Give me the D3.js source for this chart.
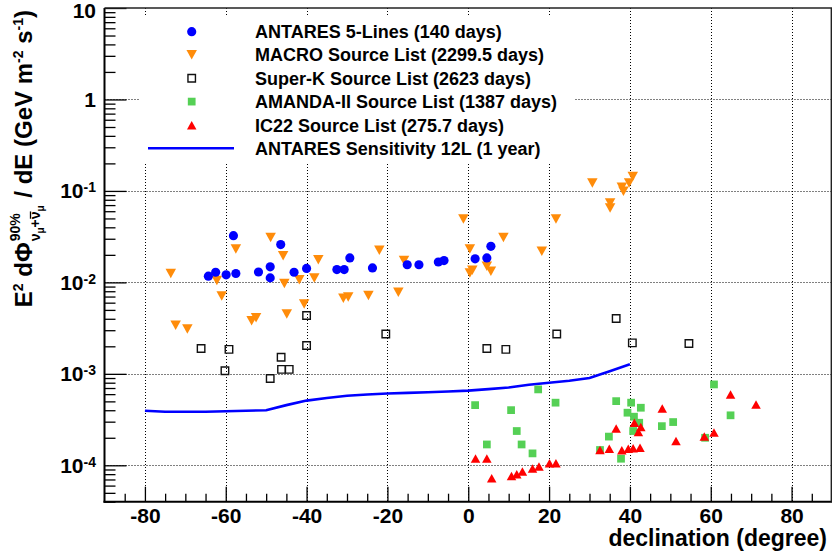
<!DOCTYPE html>
<html>
<head>
<meta charset="utf-8">
<script src="https://cdn.jsdelivr.net/npm/d3@7"></script>
<style>
  html, body { margin: 0; padding: 0; background: #fff; }
  svg { display: block; font-family: "Liberation Sans", Arial, Helvetica, sans-serif; font-weight: bold; }
  .pre { white-space: pre; }
</style>
</head>
<body>
<svg id="chart" width="832" height="560"></svg>
<script>
// ---------------- data ----------------
const antaresDec  = [-64.3,-62.5,-59.9,-58.1,-57.5,-51.9,-49.0,-49.0,-46.4,-43.1,-40.0,-32.5,-30.7,-29.3,-23.7,-15.1,-12.2,-7.4,-6.0,1.7,4.6,5.6];
const antaresFlux = [0.0117,0.0129,0.0121,0.0324,0.0125,0.0130,0.0148,0.0112,0.0259,0.0129,0.0142,0.0138,0.0138,0.0185,0.0144,0.0156,0.0156,0.0167,0.0173,0.0181,0.0185,0.0248];

const macroDec  = [-73.6,-72.4,-69.5,-62.2,-61.0,-57.5,-53.6,-52.5,-48.9,-45.8,-45.5,-44.9,-41.8,-40.6,-38.1,-37.1,-30.9,-29.7,-24.7,-22.0,-17.3,-15.9,-1.2,0.4,0.4,1.0,4.6,5.6,8.7,18.2,21.7,30.7,35.1,35.1,38.0,38.4,39.8,40.7];
const macroFlux = [0.0125,0.0034,0.0031,0.0105,0.0071,0.0232,0.0038,0.0041,0.031,0.0196,0.0097,0.0045,0.0107,0.0058,0.0112,0.0177,0.0067,0.0069,0.0072,0.0224,0.0078,0.0173,0.0493,0.0232,0.0127,0.0136,0.015,0.0132,0.031,0.0219,0.0493,0.122,0.074,0.065,0.110,0.099,0.122,0.144];

const superKDec  = [-66.1,-60.2,-59.2,-49.0,-46.3,-46.2,-44.3,-40.0,-40.0,-20.4,4.6,9.3,21.9,36.6,40.6,54.6];
const superKFlux = [0.00189,0.00108,0.00185,0.00089,0.00152,0.00112,0.00112,0.00435,0.00204,0.00273,0.00189,0.00185,0.00273,0.00403,0.00218,0.00215];

const amandaDec  = [1.7,4.6,10.6,12.0,13.2,15.9,17.3,21.6,32.6,34.8,36.6,37.8,39.4,40.3,41.0,42.7,42.3,40.8,47.9,50.7,58.6,60.8,64.9];
const amandaFlux = [0.000455,0.000169,0.000401,0.000237,0.000169,0.000135,0.000676,0.000484,0.000147,0.000206,0.000503,0.000118,0.000376,0.000484,0.00034,0.000426,0.000292,0.000237,0.000268,0.000297,0.0002,0.000766,0.000352];

const ic22Dec  = [1.8,4.6,5.8,10.7,12.0,13.4,15.9,17.5,20.1,21.7,32.6,34.9,36.6,38.0,39.6,40.8,42.5,41.1,42.1,42.7,48.0,51.4,58.4,60.8,64.9,71.2];
const ic22Flux = [0.000119,0.000119,0.0000721,0.0000764,0.0000798,0.0000853,0.000092,0.000097,0.000105,0.000105,0.000147,0.000152,0.000253,0.000146,0.000152,0.000154,0.000156,0.000292,0.000231,0.000262,0.000419,0.000184,0.000206,0.000228,0.000596,0.000463];

const sensDec  = [-80,-75,-70,-65,-60,-55,-50,-45,-40,-35,-30,-25,-20,-15,-10,-5,0,5,10,15,20,25,30,35,40];
const sensFlux = [3.95e-4,3.85e-4,3.85e-4,3.85e-4,3.9e-4,3.95e-4,4.0e-4,4.55e-4,5.1e-4,5.45e-4,5.75e-4,5.95e-4,6.1e-4,6.2e-4,6.3e-4,6.4e-4,6.55e-4,6.8e-4,7.1e-4,7.6e-4,8.0e-4,8.4e-4,9.0e-4,1.07e-3,1.27e-3];

const xTickValues = [-80,-60,-40,-20,0,20,40,60,80];
const yTickExponents = [-4,-3,-2,-1,0,1];
const legendLabels = [
  "ANTARES 5-Lines (140 days)",
  "MACRO Source List (2299.5 days)",
  "Super-K Source List (2623 days)",
  "AMANDA-II Source List (1387 days)",
  "IC22 Source List (275.7 days)",
  "ANTARES Sensitivity 12L (1 year)"
];
const xTitle = "declination (degree)";

// ---------------- layout ----------------
const svg = d3.select("#chart");
const X0 = 104.5, X1 = 832, Y0 = 501.7, Y1 = 8;
const x = d3.scaleLinear().domain([-90, 90]).range([X0, X1]);
const y = d3.scaleLog().domain([4e-5, 10]).range([Y0, Y1]);

const C = { blue: "#0000ff", orange: "#ff8c0a", green: "#55d055", red: "#ff0000", black: "#000" };

// grid
const grid = svg.append("g").attr("stroke", "#000").attr("stroke-width", 1).attr("stroke-dasharray", "1,2");
grid.selectAll("line.v").data(xTickValues).join("line")
  .attr("x1", d => Math.round(x(d)) + 0.5).attr("x2", d => Math.round(x(d)) + 0.5)
  .attr("y1", Y1).attr("y2", Y0);
grid.selectAll("line.h").data(yTickExponents.slice(0, -1)).join("line")
  .attr("x1", X0).attr("x2", X1)
  .attr("y1", d => Math.round(y(Math.pow(10, d))) + 0.5).attr("y2", d => Math.round(y(Math.pow(10, d))) + 0.5);

// sensitivity line
const lineGen = d3.line().x(d => x(d[0])).y(d => y(d[1]));
svg.append("path").datum(sensDec.map((d, i) => [d, sensFlux[i]]))
  .attr("d", lineGen).attr("fill", "none").attr("stroke", C.blue).attr("stroke-width", 2.6);

// marker shapes
function triDown(w, h) { return `M${-w/2},${-h/2}L${w/2},${-h/2}L0,${h/2}Z`; }
function triUp(w, h) { return `M${-w/2},${h/2}L${w/2},${h/2}L0,${-h/2}Z`; }

function drawSeries(dec, flux, kind) {
  const data = dec.map((d, i) => [d, flux[i]]);
  const g = svg.append("g");
  const sel = g.selectAll("path").data(data).join("path")
    .attr("transform", d => `translate(${x(d[0])},${y(d[1])})`);
  styleMarker(sel, kind);
}
function styleMarker(sel, kind) {
  if (kind === "circle") sel.attr("d", d3.symbol(d3.symbolCircle, 66)()).attr("fill", C.blue);
  if (kind === "down") sel.attr("d", triDown(10.5, 9.5)).attr("fill", C.orange);
  if (kind === "open") sel.attr("d", d3.symbol(d3.symbolSquare, 56)()).attr("fill", "none").attr("stroke", "#111").attr("stroke-width", 1.4);
  if (kind === "square") sel.attr("d", d3.symbol(d3.symbolSquare, 60)()).attr("fill", C.green);
  if (kind === "up") sel.attr("d", triUp(9.5, 8.5)).attr("fill", C.red);
}
drawSeries(superKDec, superKFlux, "open");
drawSeries(macroDec, macroFlux, "down");
drawSeries(antaresDec, antaresFlux, "circle");
drawSeries(amandaDec, amandaFlux, "square");
drawSeries(ic22Dec, ic22Flux, "up");

// axes (ticks via d3 axes)
const xMajor = d3.axisBottom(x).tickValues(xTickValues).tickSize(-15).tickPadding(6.5).tickFormat(d => d);
const xMinor = d3.axisBottom(x).tickValues(d3.range(-85, 90, 5).filter(v => v % 20 !== 0)).tickSize(-8).tickFormat("");
const gxMinor = svg.append("g").attr("transform", `translate(0,${Y0})`).call(xMinor);
const gx = svg.append("g").attr("transform", `translate(0,${Y0})`).call(xMajor);
[gx, gxMinor].forEach(g => { g.select(".domain").remove(); g.selectAll("line").attr("stroke", "#000").attr("stroke-width", 1.3); });
gx.selectAll("text").attr("fill", "#000").style("font-size", "21px").style("font-family", "'Liberation Sans', Arial, sans-serif").style("font-weight", "bold");

const yMinorVals = [];
for (let e = -5; e <= 0; e++) for (let m = 2; m <= 9; m++) { const v = m * Math.pow(10, e); if (v >= 4e-5 && v <= 10) yMinorVals.push(v); }
const yMajor = d3.axisLeft(y).tickValues(yTickExponents.map(e => Math.pow(10, e))).tickSize(-22).tickFormat("");
const yMinor = d3.axisLeft(y).tickValues(yMinorVals).tickSize(-11).tickFormat("");
const gyMinor = svg.append("g").attr("transform", `translate(${X0},0)`).call(yMinor);
const gy = svg.append("g").attr("transform", `translate(${X0},0)`).call(yMajor);
[gy, gyMinor].forEach(g => { g.select(".domain").remove(); g.selectAll("line").attr("stroke", "#000").attr("stroke-width", 1.3); });

// y tick labels with exponents
const ylab = svg.append("g").attr("text-anchor", "end").attr("fill", "#000");
yTickExponents.forEach(e => {
  const yy = y(Math.pow(10, e)) + (e === 1 ? 9.5 : 7.5);
  const t = ylab.append("text").attr("x", 96).attr("y", yy).style("font-size", "21px");
  if (e === 0) t.text("1");
  else if (e === 1) t.text("10");
  else {
    t.append("tspan").text("10");
    t.append("tspan").attr("dy", -6).style("font-size", "14px").text(String(e));
  }
});

// frame
svg.append("line").attr("x1", X0).attr("x2", X0).attr("y1", Y1).attr("y2", Y0 + 1).attr("stroke", "#000").attr("stroke-width", 2);
svg.append("line").attr("x1", X0 - 1).attr("x2", X1).attr("y1", Y0).attr("y2", Y0).attr("stroke", "#000").attr("stroke-width", 2);
svg.append("line").attr("x1", X0).attr("x2", X1).attr("y1", Y1).attr("y2", Y1).attr("stroke", "#222").attr("stroke-width", 1.4);
svg.append("line").attr("x1", X1 - 0.7).attr("x2", X1 - 0.7).attr("y1", Y1).attr("y2", Y0).attr("stroke", "#222").attr("stroke-width", 1.4);

// x title
svg.append("text").attr("x", 827).attr("y", 546).attr("text-anchor", "end")
  .style("font-size", "23px").attr("fill", "#000").text(xTitle);

// y title (rotated, anchored at top)
(function () {
  const g = svg.append("g").attr("fill", "#000");
  let cx = 0;
  function put(str, size, dy, advance = true, dx = 0) {
    const t = g.append("text").attr("class", "pre").attr("xml:space", "preserve")
      .attr("x", cx + dx).attr("y", dy).style("font-size", size + "px").text(str);
    const w = t.node().getComputedTextLength();
    if (advance) cx += w;
    return w;
  }
  put("E", 24, 0);
  put("2", 14, -9);
  put(" d", 24, 0);
  put("Φ", 24, 0);
  const start = cx;
  const w1 = put("90%", 14, -12, false, 1);
  cx = start + 1;
  put("ν", 14, 8);
  put("μ", 10, 12);
  put("+", 14, 8);
  const barX = cx;
  const nu2 = put("ν", 14, 8);
  g.append("line").attr("x1", barX + 0.5).attr("x2", barX + nu2).attr("y1", -1.5).attr("y2", -1.5).attr("stroke", "#000").attr("stroke-width", 1.3);
  put("μ", 10, 12);
  const subW = cx - start;
  cx = start + Math.max(w1 + 1, subW) + 1;
  put(" / dE (GeV m", 24, 0);
  put("-2", 14, -9);
  put(" s", 24, 0);
  put("-1", 14, -9);
  put(")", 24, 0);
  const total = cx;
  g.attr("transform", `translate(32,${10 + total}) rotate(-90)`);
})();

// legend
const leg = svg.append("g");
leg.append("rect").attr("x", 140).attr("y", 15).attr("width", 435).attr("height", 148).attr("fill", "#fff");
const rowY = [31.7, 54.8, 78.3, 101.6, 125.3, 148.3];
const kinds = ["circle", "down", "open", "square", "up"];
kinds.forEach((k, i) => {
  const s = leg.append("path").attr("transform", `translate(191.7,${rowY[i]})`);
  styleMarker(s, k);
});
leg.append("line").attr("x1", 148).attr("x2", 234).attr("y1", rowY[5]).attr("y2", rowY[5]).attr("stroke", C.blue).attr("stroke-width", 2.6);
leg.selectAll("text").data(legendLabels).join("text")
  .attr("x", 255).attr("y", (d, i) => rowY[i] + 6.5)
  .style("font-size", "18px").attr("fill", "#000").text(d => d);
</script>
</body>
</html>
